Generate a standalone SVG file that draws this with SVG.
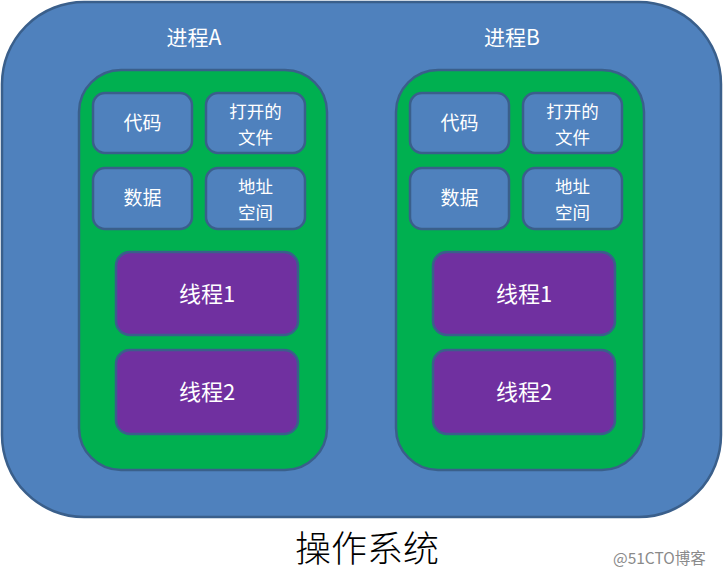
<svg xmlns="http://www.w3.org/2000/svg" width="724" height="578" viewBox="0 0 724 578">
<style>
.os{fill:#4F81BD;stroke:#3A5F8B;stroke-width:2.5}
.proc{fill:#00B050;stroke:#3A5F8B;stroke-width:2.5}
.res{fill:#4F81BD;stroke:#3A5F8B;stroke-width:2.5}
.thr{fill:#7030A0;stroke:#3A5F8B;stroke-width:2.5}
text{font-family:"Microsoft YaHei","Noto Sans CJK SC",sans-serif;fill:#fff;text-anchor:middle}
.t1{font-size:21px}
.t2{font-size:19px}
.t2s{font-size:17.5px}
.t3{font-size:22px}
.title{font-size:36px;fill:#000;font-family:"Noto Sans CJK SC",serif;font-weight:300}
.wm{font-size:15.5px;fill:#8a8a8a;text-anchor:start}
</style>
<g id="os">
<rect class="os" x="2" y="2" width="719" height="515" rx="82" ry="82"/>
</g>
<g id="processA">
<text class="t1" x="194" y="45">进程A</text>
<rect class="proc" x="79" y="70" width="248" height="400" rx="42" ry="42"/>
</g>
<g id="A-code"><rect class="res" x="93" y="93" width="99" height="60" rx="12"/><text class="t2" x="142.5" y="130">代码</text></g>
<g id="A-files"><rect class="res" x="206" y="93" width="99" height="60" rx="12"/><text class="t2s" x="255.5" y="118">打开的</text><text class="t2s" x="255.5" y="144">文件</text></g>
<g id="A-data"><rect class="res" x="93" y="168" width="99" height="61" rx="12"/><text class="t2" x="142.5" y="205">数据</text></g>
<g id="A-addr"><rect class="res" x="206" y="168" width="99" height="61" rx="12"/><text class="t2s" x="255.5" y="193">地址</text><text class="t2s" x="255.5" y="219">空间</text></g>
<g id="A-thread1"><rect class="thr" x="116" y="252" width="182" height="83" rx="14"/><text class="t3" x="207" y="302">线程1</text></g>
<g id="A-thread2"><rect class="thr" x="116" y="350" width="182" height="84" rx="14"/><text class="t3" x="207" y="400">线程2</text></g>
<g id="processB">
<text class="t1" x="512" y="45">进程B</text>
<rect class="proc" x="396" y="70" width="248" height="400" rx="42" ry="42"/>
</g>
<g id="B-code"><rect class="res" x="410" y="93" width="99" height="60" rx="12"/><text class="t2" x="459.5" y="130">代码</text></g>
<g id="B-files"><rect class="res" x="523" y="93" width="99" height="60" rx="12"/><text class="t2s" x="572.5" y="118">打开的</text><text class="t2s" x="572.5" y="144">文件</text></g>
<g id="B-data"><rect class="res" x="410" y="168" width="99" height="61" rx="12"/><text class="t2" x="459.5" y="205">数据</text></g>
<g id="B-addr"><rect class="res" x="523" y="168" width="99" height="61" rx="12"/><text class="t2s" x="572.5" y="193">地址</text><text class="t2s" x="572.5" y="219">空间</text></g>
<g id="B-thread1"><rect class="thr" x="433" y="252" width="182" height="83" rx="14"/><text class="t3" x="524" y="302">线程1</text></g>
<g id="B-thread2"><rect class="thr" x="433" y="350" width="182" height="84" rx="14"/><text class="t3" x="524" y="400">线程2</text></g>
<g id="connectors"></g>
<text class="title" x="367" y="562">操作系统</text>
<text class="wm" x="613" y="564">@51CTO博客</text>
</svg>
